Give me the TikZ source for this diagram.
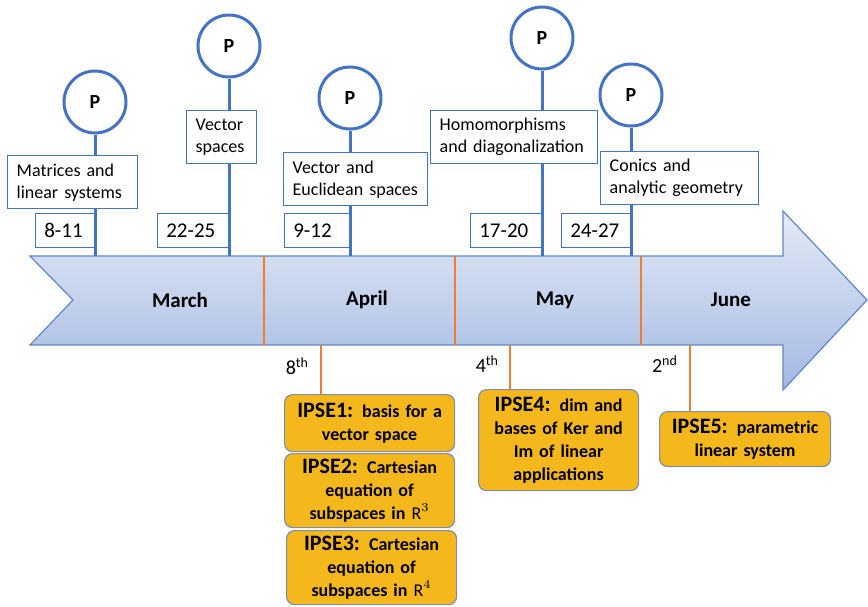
\documentclass[tikz,border=0pt]{standalone}
\usepackage{fontspec}
\setmainfont{Carlito}
\usetikzlibrary{positioning}

\definecolor{pblue}{HTML}{4472C4}
\definecolor{arrowtop}{HTML}{E4EAF6}
\definecolor{arrowbot}{HTML}{A3B9E2}
\definecolor{cutorange}{HTML}{ED7D31}
\definecolor{ipsegold}{HTML}{F5B81C}
\definecolor{ipseedge}{HTML}{7F8FA9}

\tikzset{
    pnode/.style={circle, draw=pblue, line width=1.5pt, fill=white, minimum size=31pt, inner sep=0pt, font=\fontsize{10}{12}\selectfont\bfseries},
    stem/.style={draw=pblue, line width=1.5pt},
    topic/.style={draw=pblue, line width=0.7pt, fill=white, anchor=north west, align=left, inner xsep=4.5pt, inner ysep=2pt, minimum height=26.5pt, font=\fontsize{9}{11}\selectfont},
    datebox/.style={draw=pblue, line width=0.7pt, fill=white, anchor=south east, align=left, inner xsep=4.5pt, minimum height=17pt, font=\fontsize{10.5}{12}\selectfont},
    month/.style={font=\fontsize{10.5}{12}\selectfont\bfseries},
    ipse/.style={draw=ipseedge, line width=0.6pt, fill=ipsegold, rounded corners=4pt, anchor=north west, align=center, inner xsep=2pt, inner ysep=1pt, font=\fontsize{9}{11.5}\selectfont\bfseries},
    cut/.style={draw=cutorange, line width=1pt},
    dayof/.style={anchor=east, font=\fontsize{10}{12}\selectfont}
}
\newcommand{\ipsetag}[1]{{\fontsize{11}{11.5}\selectfont #1}}

\begin{document}
\begin{tikzpicture}[x=0.5pt,y=-0.5pt]
    \useasboundingbox (0,0) rectangle (868,606);

    % timeline arrow
    \draw[draw=pblue!85, line width=0.6pt, top color=arrowtop, bottom color=arrowbot]
        (30,256) -- (783,256) -- (783,211) -- (867,300) -- (783,390) -- (783,345) -- (30,345) -- (73,300) -- cycle;
    \foreach \x in {264,455,641}
        \draw[cut] (\x,256) -- (\x,345);

    \node[month] (mar) at (180,300) {March};
    \node[month] (apr) at (367,300) {April};
    \node[month] (may) at (555,300) {May};
    \node[month] (jun) at (731,300) {June};

    % where the stems meet the arrow
    \coordinate (t1) at (95,256);
    \coordinate (t2) at (229,256);
    \coordinate (t3) at (350,256);
    \coordinate (t4) at (542,256);
    \coordinate (t5) at (631,256);

    % dates
    \node[datebox, text width=20.5pt] (d1) at (95,248) {8-11};
    \node[datebox, text width=26.5pt] (d2) at (229,248) {22-25};
    \node[datebox, text width=23.5pt] (d3) at (350,248) {9-12};
    \node[datebox, text width=26.5pt] (d4) at (542,248) {17-20};
    \node[datebox, text width=25.5pt] (d5) at (631,248) {24-27};

    % partial tests
    \node[pnode] (p1) at (95,102) {P};
    \node[pnode] (p2) at (229,46) {P};
    \node[pnode] (p3) at (350,98) {P};
    \node[pnode] (p4) at (542,38) {P};
    \node[pnode] (p5) at (631,95) {P};

    \draw[stem] (p1) -- (t1);
    \draw[stem] (p2) -- (t2);
    \draw[stem] (p3) -- (t3);
    \draw[stem] (p4) -- (t4);
    \draw[stem] (p5) -- (t5);

    % topics
    \node[topic, text width=56pt] (top1) at (7,155) {Matrices and\\linear systems};
    \node[topic, text width=26pt] (top2) at (186,110) {Vector\\spaces};
    \node[topic, text width=63pt] (top3) at (283,152) {Vector and\\Euclidean spaces};
    \node[topic, text width=74.5pt] (top4) at (430,110) {Homomorphisms\\and diagonalization};
    \node[topic, text width=70pt] (top5) at (600,151) {Conics and\\analytic geometry};

    % ipse tasks
    \node[ipse, text width=81pt, minimum height=28.5pt] (ipse1) at (284,394) {\ipsetag{IPSE1:} basis for a\\vector space};
    \node[ipse, text width=81pt, minimum height=37pt] (ipse2) at (284,453) {\ipsetag{IPSE2:} Cartesian\\equation of\\subspaces in $\mathrm{R}^3$};
    \node[ipse, text width=81pt, minimum height=37pt] (ipse3) at (286,530) {\ipsetag{IPSE3:} Cartesian\\equation of\\subspaces in $\mathrm{R}^4$};
    \node[ipse, text width=76pt, minimum height=50.5pt] (ipse4) at (478,389) {\ipsetag{IPSE4:} dim and\\bases of Ker and\\Im of linear\\applications};
    \node[ipse, text width=81.5pt, minimum height=27.5pt] (ipse5) at (659,411) {\ipsetag{IPSE5:} parametric\\linear system};

    \coordinate (b1) at (321,345);
    \coordinate (b2) at (510,345);
    \coordinate (b3) at (690,345);
    \draw[cut] (b1) -- (ipse1.north -| b1);
    \draw[cut] (b2) -- (ipse4.north -| b2);
    \draw[cut] (b3) -- (ipse5.north -| b3);

    \node[dayof] (day1) at (316,366) {8\textsuperscript{th}};
    \node[dayof] (day2) at (506,364) {4\textsuperscript{th}};
    \node[dayof] (day3) at (685,364) {2\textsuperscript{nd}};
\end{tikzpicture}
\end{document}
